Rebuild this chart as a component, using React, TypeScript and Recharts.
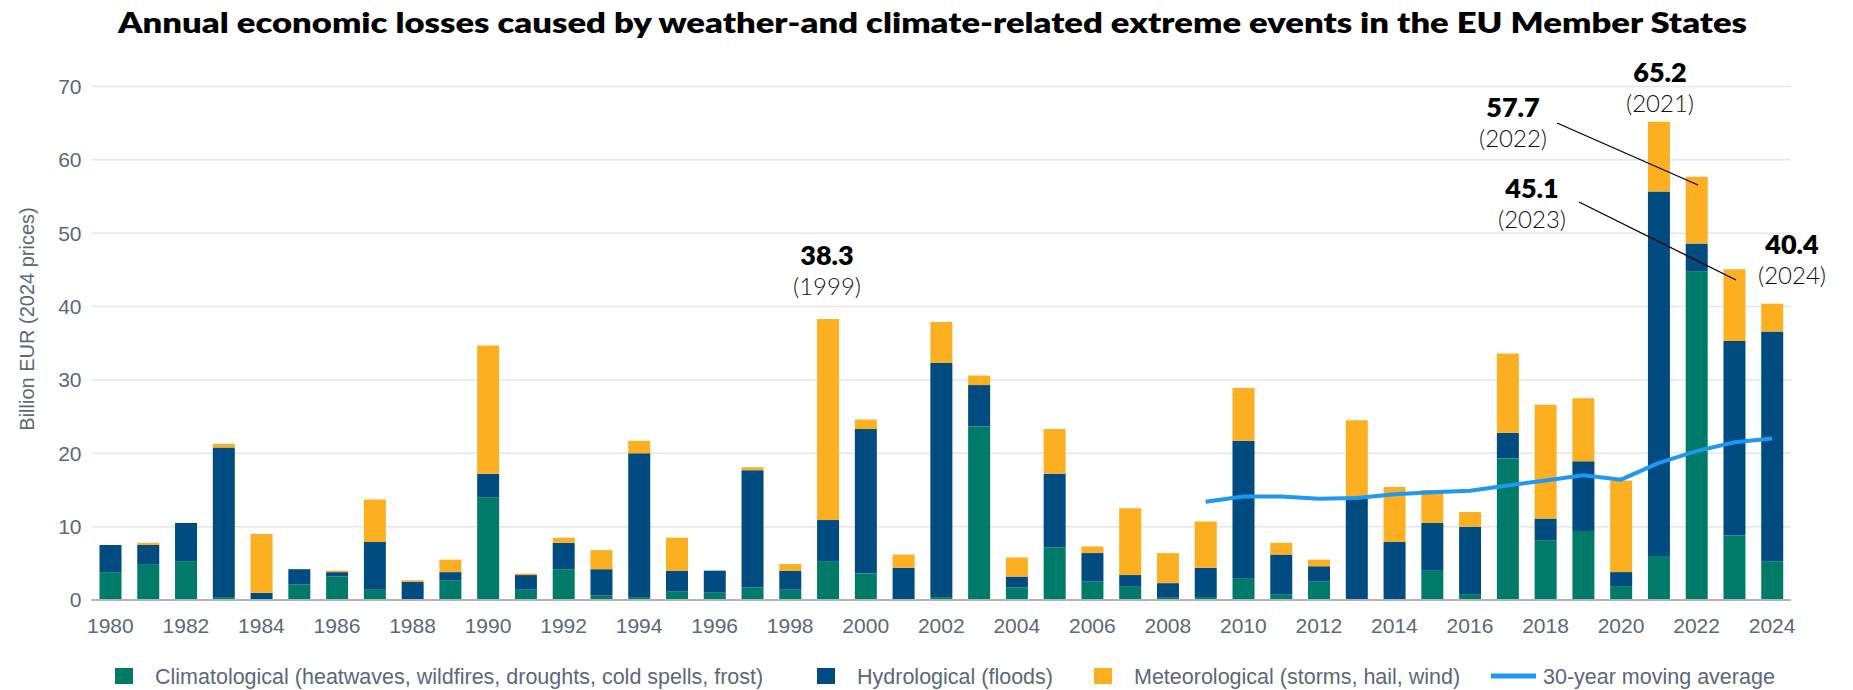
import { ComposedChart, Bar, Line, XAxis, YAxis, CartesianGrid } from "recharts"

const years = [
  "1980", "1981", "1982", "1983", "1984", "1985", "1986", "1987", "1988", "1989",
  "1990", "1991", "1992", "1993", "1994", "1995", "1996", "1997", "1998", "1999",
  "2000", "2001", "2002", "2003", "2004", "2005", "2006", "2007", "2008", "2009",
  "2010", "2011", "2012", "2013", "2014", "2015", "2016", "2017", "2018", "2019",
  "2020", "2021", "2022", "2023", "2024",
]

// billion EUR, 2024 prices
const climatological = [
  3.8, 4.9, 5.3, 0.4, 0, 2.1, 3.2, 1.4, 0, 2.7,
  14.0, 1.4, 4.2, 0.6, 0.4, 1.2, 1.0, 1.7, 1.4, 5.3,
  3.6, 0.1, 0.4, 23.7, 1.7, 7.2, 2.5, 1.9, 0.4, 0.4,
  2.9, 0.8, 2.5, 0.1, 0.1, 4.0, 0.8, 19.3, 8.1, 9.4,
  1.9, 6.0, 44.8, 8.8, 5.3,
]
const hydrological = [
  3.7, 2.6, 5.2, 20.4, 1.0, 2.1, 0.6, 6.5, 2.5, 1.1,
  3.2, 2.0, 3.6, 3.6, 19.6, 2.8, 3.0, 16.0, 2.6, 5.6,
  19.7, 4.3, 31.9, 5.6, 1.5, 10.0, 3.9, 1.5, 1.9, 4.0,
  18.8, 5.4, 2.1, 13.7, 7.8, 6.5, 9.2, 3.5, 3.0, 9.5,
  1.9, 49.7, 3.8, 26.5, 31.3,
]
const meteorological = [
  0, 0.3, 0, 0.5, 8.0, 0, 0.2, 5.8, 0.2, 1.7,
  17.5, 0.2, 0.7, 2.6, 1.7, 4.5, 0, 0.4, 0.9, 27.4,
  1.3, 1.8, 5.6, 1.3, 2.6, 6.1, 0.9, 9.1, 4.1, 6.3,
  7.2, 1.6, 0.9, 10.7, 7.5, 4.5, 2.0, 10.8, 15.5, 8.6,
  12.5, 9.5, 9.1, 9.8, 3.8,
]
const movingAvg = [
  null, null, null, null, null, null, null, null, null, null,
  null, null, null, null, null, null, null, null, null, null,
  null, null, null, null, null, null, null, null, null, 13.4,
  14.1, 14.1, 13.8, 13.9, 14.4, 14.7, 14.9, 15.6, 16.3, 17.0,
  16.4, 18.7, 20.3, 21.5, 22.0,
]
const yTicks = [0, 10, 20, 30, 40, 50, 60, 70]

const GREEN = "#007a69"
const BLUE = "#004b80"
const ORANGE = "#fdaf22"
const LINE = "#1e98f3"
const TICK = "#5b6877"
const SANS = '"Liberation Sans", Arial, sans-serif'
const GEO = 'Lato, "Noto Sans", sans-serif'

const data = years.map((year, i) => ({
  year,
  clim: climatological[i],
  hydro: hydrological[i],
  meteo: meteorological[i],
  avg: movingAvg[i],
}))

const total = (year: string) => {
  const i = years.indexOf(year)
  return (climatological[i] + hydrological[i] + meteorological[i]).toFixed(1)
}

// annotation text positions
const notes = [
  { year: "1999", x: 827, y: 265 },
  { year: "2021", x: 1660, y: 82 },
  { year: "2022", x: 1513, y: 117 },
  { year: "2023", x: 1532, y: 198 },
  { year: "2024", x: 1792, y: 254 },
]

const legend = [
  { label: "Climatological (heatwaves, wildfires, droughts, cold spells, frost)", color: GREEN, x: 115, kind: "box" },
  { label: "Hydrological (floods)", color: BLUE, x: 817, kind: "box" },
  { label: "Meteorological (storms, hail, wind)", color: ORANGE, x: 1094, kind: "box" },
  { label: "30-year moving average", color: LINE, x: 1491, kind: "line" },
]

export default function App() {
  return (
    <div style={{ position: "absolute", left: 0, top: 0, width: 1853, height: 690, background: "#fff" }}>
      <ComposedChart
        width={1853}
        height={690}
        data={data}
        margin={{ top: 86.5, right: 62, bottom: 60, left: 0 }}
      >
        <CartesianGrid vertical={false} stroke="#e6e6e6" strokeWidth={1.5} />
        <XAxis
          dataKey="year"
          interval={1}
          tickLine={false}
          axisLine={{ stroke: "#b4b4b4", strokeWidth: 2 }}
          tick={{ fill: TICK, fontSize: 21, fontFamily: SANS }}
          tickMargin={12}
          height={30}
        />
        <YAxis
          domain={[0, 70]}
          ticks={yTicks}
          axisLine={false}
          tickLine={false}
          tick={{ fill: TICK, fontSize: 21, fontFamily: SANS }}
          tickMargin={4}
          width={91.5}
        />
        <Bar dataKey="clim" stackId="a" fill={GREEN} barSize={22} isAnimationActive={false} />
        <Bar dataKey="hydro" stackId="a" fill={BLUE} barSize={22} isAnimationActive={false} />
        <Bar dataKey="meteo" stackId="a" fill={ORANGE} barSize={22} isAnimationActive={false} />
        <Line dataKey="avg" stroke={LINE} strokeWidth={4} dot={false} isAnimationActive={false} />
      </ComposedChart>

      <svg width={1853} height={690} style={{ position: "absolute", left: 0, top: 0, pointerEvents: "none" }}>
        <text
          x={932.5}
          y={33}
          textAnchor="middle"
          textLength={1629}
          lengthAdjust="spacingAndGlyphs"
          style={{ fontFamily: GEO, fontWeight: 800, fontSize: 28, fill: "#000" }}
        >
          Annual economic losses caused by weather-and climate-related extreme events in the EU Member States
        </text>

        <text
          transform="translate(27 319) rotate(-90)"
          textAnchor="middle"
          dominantBaseline="central"
          style={{ fontFamily: SANS, fontSize: 20, fill: TICK }}
        >
          Billion EUR (2024 prices)
        </text>

        {notes.map((n) => (
          <g key={n.year}>
            <text x={n.x} y={n.y} textAnchor="middle" style={{ fontFamily: GEO, fontWeight: 800, fontSize: 27, fill: "#000" }}>
              {total(n.year)}
            </text>
            <text x={n.x} y={n.y + 30} textAnchor="middle" style={{ fontFamily: GEO, fontWeight: 300, fontSize: 24, fill: "#111" }}>
              ({n.year})
            </text>
          </g>
        ))}
        <line x1={1557} y1={123} x2={1698} y2={185} stroke="#000" strokeWidth={1.3} />
        <line x1={1579} y1={202} x2={1736} y2={280} stroke="#000" strokeWidth={1.3} />

        {legend.map((l) => (
          <g key={l.label}>
            {l.kind === "box" ? (
              <rect x={l.x} y={668} width={18} height={16} fill={l.color} />
            ) : (
              <line x1={l.x} y1={676} x2={l.x + 45} y2={676} stroke={l.color} strokeWidth={5} />
            )}
            <text
              x={l.kind === "box" ? l.x + 40 : l.x + 52}
              y={676.5}
              dominantBaseline="central"
              style={{ fontFamily: SANS, fontSize: 21.5, fill: TICK }}
            >
              {l.label}
            </text>
          </g>
        ))}
      </svg>
    </div>
  )
}
